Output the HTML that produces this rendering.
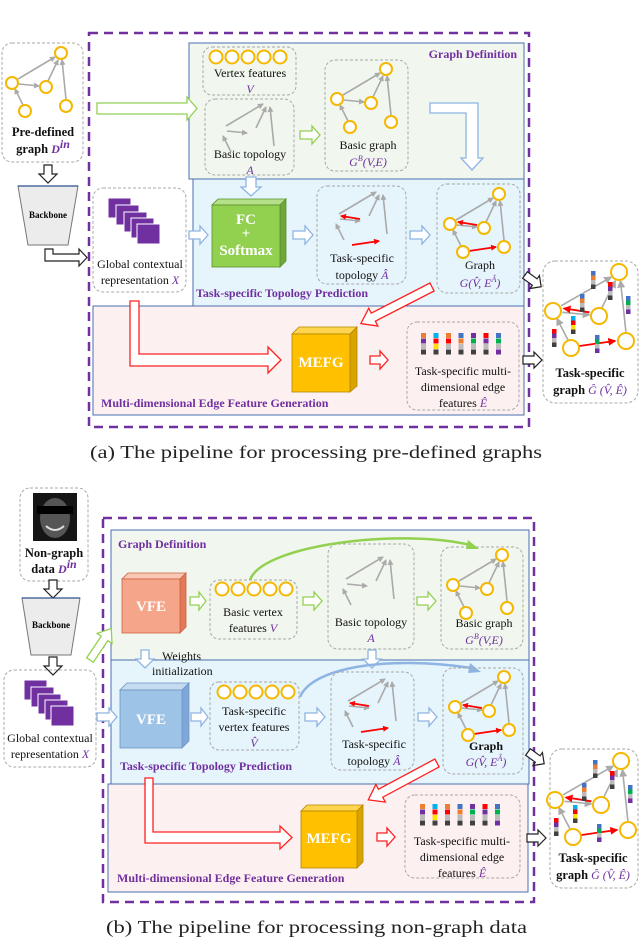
<!DOCTYPE html>
<html><head><meta charset="utf-8"><style>
html,body{margin:0;padding:0;background:#fff}
svg{display:block}
text{font-family:"Liberation Serif",serif}
.t{font-size:12px;fill:#111}
.m{font-size:12px;fill:#7030a0;font-style:italic}
.h{font-size:12px;fill:#7030a0;font-weight:bold}
.b{font-size:12.5px;font-weight:bold;fill:#111}
.cap{font-size:18px;fill:#222}
.db{fill:none;stroke:#a8a8a8;stroke-width:1;stroke-dasharray:3 2}
.ga{fill:#fff;stroke:#92d050;stroke-width:1.3}
.ba{fill:#fff;stroke:#8eb4e3;stroke-width:1.3}
.ra{fill:#fff;stroke:#ff2020;stroke-width:1.3}
.ka{fill:#fff;stroke:#222;stroke-width:1.2}
.ct{font-size:15px;font-weight:bold;fill:#fff;text-anchor:middle}
</style></head><body>
<svg width="640" height="938" viewBox="0 0 640 938" xmlns="http://www.w3.org/2000/svg">
<defs>
<marker id="ag" markerWidth="6" markerHeight="6" refX="5" refY="3" orient="auto" markerUnits="userSpaceOnUse"><path d="M0,0 L6,3 L0,6z" fill="#aaa"/></marker>
<marker id="ar" markerWidth="6" markerHeight="6" refX="5" refY="3" orient="auto" markerUnits="userSpaceOnUse"><path d="M0,0 L6,3 L0,6z" fill="#f00"/></marker>
<g id="ed" stroke="#aaa" stroke-width="1.6" marker-end="url(#ag)">
<line x1="6" y1="26" x2="43" y2="4"/><line x1="36" y1="28" x2="46" y2="7"/><line x1="54" y1="46" x2="50" y2="7"/><line x1="7" y1="31" x2="27" y2="33"/><line x1="11" y1="52" x2="3" y2="36"/>
</g>
<g id="nd" fill="#fff" stroke="#f5b800" stroke-width="2">
<circle cx="49" cy="0" r="6"/><circle cx="0" cy="30" r="6"/><circle cx="34" cy="34" r="6"/><circle cx="13" cy="58" r="6"/><circle cx="54" cy="53" r="6"/>
</g>
<g id="re" stroke="#f00" stroke-width="1.8" marker-end="url(#ar)">
<line x1="27" y1="31" x2="8" y2="28"/><line x1="19" y1="57" x2="46" y2="53"/>
</g>
<g id="gr"><use href="#ed"/><use href="#nd"/></g>
<g id="tg"><use href="#ed"/><use href="#re"/><use href="#nd"/></g>
<g id="vc" fill="#fff" stroke="#f5b800" stroke-width="2"><circle cx="0" cy="0" r="6.5"/><circle cx="16" cy="0" r="6.5"/><circle cx="32" cy="0" r="6.5"/><circle cx="48" cy="0" r="6.5"/><circle cx="64" cy="0" r="6.5"/></g>
<g id="bars">
<rect x="0" y="0" width="5" height="5" fill="#ed7d31"/><rect x="0" y="5.5" width="5" height="5" fill="#7030a0"/><rect x="0" y="11" width="5" height="5" fill="#bbb"/><rect x="0" y="16.5" width="5" height="5" fill="#404040"/>
<rect x="12.5" y="0" width="5" height="5" fill="#00b0f0"/><rect x="12.5" y="5.5" width="5" height="5" fill="#f00"/><rect x="12.5" y="11" width="5" height="5" fill="#ffe000"/><rect x="12.5" y="16.5" width="5" height="5" fill="#404040"/>
<rect x="25" y="0" width="5" height="5" fill="#ed7d31"/><rect x="25" y="5.5" width="5" height="5" fill="#f00"/><rect x="25" y="11" width="5" height="5" fill="#bbb"/><rect x="25" y="16.5" width="5" height="5" fill="#404040"/>
<rect x="37.5" y="0" width="5" height="5" fill="#4472c4"/><rect x="37.5" y="5.5" width="5" height="5" fill="#ed7d31"/><rect x="37.5" y="11" width="5" height="5" fill="#bbb"/><rect x="37.5" y="16.5" width="5" height="5" fill="#404040"/>
<rect x="50" y="0" width="5" height="5" fill="#7030a0"/><rect x="50" y="5.5" width="5" height="5" fill="#00b050"/><rect x="50" y="11" width="5" height="5" fill="#bbb"/><rect x="50" y="16.5" width="5" height="5" fill="#404040"/>
<rect x="62.5" y="0" width="5" height="5" fill="#f00"/><rect x="62.5" y="5.5" width="5" height="5" fill="#7030a0"/><rect x="62.5" y="11" width="5" height="5" fill="#bbb"/><rect x="62.5" y="16.5" width="5" height="5" fill="#404040"/>
<rect x="75" y="0" width="5" height="5" fill="#4472c4"/><rect x="75" y="5.5" width="5" height="5" fill="#00b050"/><rect x="75" y="11" width="5" height="5" fill="#bbb"/><rect x="75" y="16.5" width="5" height="5" fill="#7030a0"/>
</g>
<g id="col1"><rect width="4.5" height="4.5" fill="#4472c4"/><rect y="4.5" width="4.5" height="4.5" fill="#ed7d31"/><rect y="9" width="4.5" height="4.5" fill="#bbb"/><rect y="13.5" width="4.5" height="4.5" fill="#404040"/></g>
<g id="col2"><rect width="4.5" height="4.5" fill="#f00"/><rect y="4.5" width="4.5" height="4.5" fill="#7030a0"/><rect y="9" width="4.5" height="4.5" fill="#bbb"/><rect y="13.5" width="4.5" height="4.5" fill="#404040"/></g>
<g id="col3"><rect width="4.5" height="4.5" fill="#4472c4"/><rect y="4.5" width="4.5" height="4.5" fill="#00b050"/><rect y="9" width="4.5" height="4.5" fill="#bbb"/><rect y="13.5" width="4.5" height="4.5" fill="#7030a0"/></g>
<g id="col4"><rect width="4.5" height="4.5" fill="#00b0f0"/><rect y="4.5" width="4.5" height="4.5" fill="#f00"/><rect y="9" width="4.5" height="4.5" fill="#ffe000"/><rect y="13.5" width="4.5" height="4.5" fill="#404040"/></g>
<g id="fin">
<g transform="scale(1.35,1.3)"><g stroke="#aaa" stroke-width="1.2" marker-end="url(#ag)"><line x1="6" y1="26" x2="43" y2="4"/><line x1="36" y1="28" x2="46" y2="7"/><line x1="54" y1="46" x2="50" y2="7"/><line x1="7" y1="31" x2="27" y2="33"/><line x1="11" y1="52" x2="3" y2="36"/></g>
<g stroke="#f00" stroke-width="1.4" marker-end="url(#ar)"><line x1="27" y1="31" x2="8" y2="28"/><line x1="19" y1="57" x2="46" y2="53"/></g></g>
<use href="#col1" x="38" y="-1"/><use href="#col2" x="55" y="10"/><use href="#col3" x="73" y="24"/><use href="#col1" x="27" y="22"/><use href="#col4" x="18" y="44"/><use href="#col2" x="-1" y="57"/><use href="#col3" x="42" y="63"/>
<g fill="#fff" stroke="#f5b800" stroke-width="2" fill-opacity="0"><circle cx="66" cy="0" r="8"/><circle cx="0" cy="39" r="8"/><circle cx="46" cy="44" r="8"/><circle cx="18" cy="76" r="8"/><circle cx="73" cy="69" r="8"/></g>
</g>
</defs>

<!-- ================= (a) ================= -->
<rect x="189" y="43" width="335" height="136" fill="#f1f7ee" stroke="#4a6fb0" stroke-width="1"/>
<rect x="193" y="179" width="331" height="127" fill="#e6f4fb" stroke="#4a6fb0" stroke-width="1"/>
<rect x="93" y="306" width="431" height="109" fill="#fdf0f0" stroke="#4a6fb0" stroke-width="1"/>
<rect x="89" y="33" width="440" height="394" fill="none" stroke="#7030a0" stroke-width="2.5" stroke-dasharray="9 6"/>

<!-- pre-defined -->
<rect x="2" y="43" width="81" height="119" rx="10" class="db"/>
<g transform="translate(12,53) scale(1.0,1.0)"><use href="#gr" transform="translate(0,0)"/></g>
<text x="43" y="136" class="b" text-anchor="middle">Pre-defined</text>
<text x="43" y="153" class="b" text-anchor="middle">graph <tspan class="m" style="font-weight:bold">D</tspan><tspan class="m" font-size="8" dy="-5">in</tspan></text>
<polygon class="ka" points="44,165 52,165 52,174 57,174 48,183 39,174 44,174"/>
<polygon points="18,186 78,186 68,245 28,245" fill="#ececec" stroke="#777"/><line x1="18" y1="186" x2="78" y2="186" stroke="#2f4f8f" stroke-width="1.2"/>
<text x="48" y="218" font-size="9" font-weight="bold" text-anchor="middle">Backbone</text>
<polygon class="ka" points="45,249 53,249 53,254 79,254 79,249 87,257.5 79,266 79,261 45,261"/>

<!-- global X -->
<rect x="93" y="188" width="93" height="104" rx="10" class="db" fill="#fff"/>
<g fill="#7030a0" stroke="#fff" stroke-width="1"><rect x="108" y="198" width="23" height="20"/><rect x="116" y="205" width="23" height="20"/><rect x="124" y="212" width="23" height="20"/><rect x="131" y="218" width="23" height="20"/><rect x="137" y="224" width="23" height="20"/></g>
<text x="140" y="268" class="t" text-anchor="middle" font-size="11.5">Global contextual</text>
<text x="140" y="284" class="t" text-anchor="middle" font-size="11.5">representation <tspan class="m">X</tspan></text>

<polygon class="ga" points="97,103 187,103 187,97 197,108.5 187,120 187,114 97,114"/>

<!-- graph definition row -->
<text x="517" y="58" class="h" text-anchor="end">Graph Definition</text>
<rect x="203" y="47" width="93" height="48" rx="9" class="db"/>
<use href="#vc" x="216" y="57"/>
<text x="250" y="77" class="t" text-anchor="middle">Vertex features</text>
<text x="250" y="93" class="m" text-anchor="middle">V</text>
<rect x="205" y="99" width="89" height="76" rx="10" class="db"/>
<use href="#ed" x="220" y="100"/>
<text x="250" y="158" class="t" text-anchor="middle">Basic topology</text>
<text x="250" y="174" class="m" text-anchor="middle">A</text>
<polygon class="ga" points="300,131 312,131 312,126 320,135 312,144 312,139 300,139"/>
<rect x="325" y="60" width="83" height="111" rx="10" class="db"/>
<use href="#gr" x="337" y="69"/>
<text x="368" y="149" class="t" text-anchor="middle">Basic graph</text>
<text x="368" y="166" class="m" text-anchor="middle">G<tspan font-size="8" dy="-5">B</tspan><tspan dy="5">(V,E)</tspan></text>
<polygon class="ba" points="430,103 478,103 478,158 483,158 472,170 461,158 466,158 466,113 430,113"/>
<polygon class="ba" points="246,177 256,177 256,187 261,187 251,196 241,187 246,187"/>

<!-- task-specific topology row -->
<polygon class="ba" points="189,231 200,231 200,226 208,235 200,244 200,239 189,239"/>
<polygon points="212,205 280,205 286,199 218,199" fill="#b5e08a" stroke="#5a8f2a" stroke-width=".8"/>
<polygon points="280,205 286,199 286,261 280,267" fill="#6fa83a" stroke="#5a8f2a" stroke-width=".8"/>
<rect x="212" y="205" width="68" height="62" fill="#92d050" stroke="#5a8f2a" stroke-width=".8"/>
<text x="246" y="224" class="ct">FC</text><text x="246" y="238" class="ct" font-size="10">+</text><text x="246" y="255" class="ct">Softmax</text>
<polygon class="ba" points="293,231 305,231 305,226 313,235 305,244 305,239 293,239"/>
<rect x="317" y="186" width="89" height="98" rx="10" class="db"/>
<g transform="translate(333,188)"><use href="#ed"/><use href="#re"/></g>
<text x="362" y="262" class="t" text-anchor="middle">Task-specific</text>
<text x="362" y="279" class="t" text-anchor="middle">topology <tspan class="m">Â</tspan></text>
<polygon class="ba" points="410,231 422,231 422,226 430,235 422,244 422,239 410,239"/>
<rect x="437" y="184" width="83" height="109" rx="10" class="db"/>
<use href="#tg" x="450" y="194"/>
<text x="480" y="269" class="t" text-anchor="middle">Graph</text>
<text x="480" y="287" class="m" text-anchor="middle">G(V̂, E<tspan font-size="8" dy="-5">Â</tspan><tspan dy="5">)</tspan></text>
<text x="196" y="297" class="h">Task-specific Topology Prediction</text>

<!-- MEFG row -->
<polygon class="ra" points="130,301 139,301 139,354 268,354 268,347 281,360 268,373 268,366 130,366"/>
<polygon class="ra" transform="translate(432,287) rotate(152.8)" points="0,-4.5 66,-4.5 66,-10 80,0 66,10 66,4.5 0,4.5"/>
<polygon points="292,334 350,334 357,327 299,327" fill="#ffd54f" stroke="#b38600" stroke-width=".8"/>
<polygon points="350,334 357,327 357,386 350,392" fill="#d9a300" stroke="#b38600" stroke-width=".8"/>
<rect x="292" y="334" width="58" height="58" fill="#ffc000" stroke="#b38600" stroke-width=".8"/>
<text x="321" y="367" class="ct">MEFG</text>
<polygon class="ra" points="370,356 380,356 380,351 388,360 380,369 380,364 370,364"/>
<rect x="407" y="322" width="112" height="88" rx="10" class="db"/>
<use href="#bars" x="421" y="333"/>
<text x="463" y="375" class="t" text-anchor="middle" font-size="11.5">Task-specific multi-</text>
<text x="463" y="391" class="t" text-anchor="middle" font-size="11.5">dimensional edge</text>
<text x="463" y="407" class="t" text-anchor="middle" font-size="11.5">features <tspan class="m">Ê</tspan></text>
<text x="101" y="407" class="h">Multi-dimensional Edge Feature Generation</text>

<!-- output a -->
<polygon class="ka" transform="translate(525,275) rotate(36)" points="0,-4 12,-4 12,-8 20,0 12,8 12,4 0,4"/>
<polygon class="ka" points="523,356 534,356 534,352 542,360 534,368 534,364 523,364"/>
<rect x="543" y="261" width="95" height="142" rx="12" class="db"/>
<use href="#fin" x="553" y="272"/>
<text x="590" y="377" class="b" text-anchor="middle">Task-specific</text>
<text x="590" y="394" class="b" text-anchor="middle">graph <tspan class="m" style="font-weight:normal">Ĝ (V̂, Ê)</tspan></text>

<text x="90" y="458" class="cap" textLength="452" lengthAdjust="spacingAndGlyphs">(a) The pipeline for processing pre-defined graphs</text>

<!-- ================= (b) ================= -->
<rect x="111" y="530" width="418" height="130" fill="#f1f7ee" stroke="#4a6fb0" stroke-width="1"/>
<rect x="111" y="660" width="418" height="124" fill="#e6f4fb" stroke="#4a6fb0" stroke-width="1"/>
<rect x="108" y="784" width="420" height="108" fill="#fdf0f0" stroke="#4a6fb0" stroke-width="1"/>
<rect x="103" y="518" width="431" height="384" fill="none" stroke="#7030a0" stroke-width="2.5" stroke-dasharray="9 6"/>

<!-- non-graph -->
<rect x="20" y="488" width="68" height="93" rx="10" class="db"/>
<rect x="33" y="493" width="44" height="48" fill="#151515"/>
<ellipse cx="55" cy="518" rx="15" ry="20" fill="#555"/>
<rect x="37" y="506" width="36" height="8" fill="#000"/>
<path d="M46,526 Q55,534 64,526" stroke="#ddd" stroke-width="2" fill="none"/>
<text x="54" y="557" class="b" text-anchor="middle">Non-graph</text>
<text x="54" y="573" class="b" text-anchor="middle">data <tspan class="m" style="font-weight:bold">D</tspan><tspan class="m" font-size="8" dy="-5">in</tspan></text>
<polygon class="ka" points="49,580 57,580 57,589 62,589 53,598 44,589 49,589"/>
<polygon points="22,598 80,598 71,655 31,655" fill="#ececec" stroke="#777"/><line x1="22" y1="598" x2="80" y2="598" stroke="#2f4f8f" stroke-width="1.2"/>
<text x="51" y="628" font-size="9" font-weight="bold" text-anchor="middle">Backbone</text>
<polygon class="ka" points="49,657 57,657 57,666 62,666 53,675 44,666 49,666"/>
<rect x="4" y="670" width="92" height="97" rx="10" class="db" fill="#fff"/>
<g fill="#7030a0" stroke="#fff" stroke-width="1"><rect x="24" y="680" width="23" height="20"/><rect x="31" y="687" width="23" height="20"/><rect x="38" y="694" width="23" height="20"/><rect x="45" y="700" width="23" height="20"/><rect x="51" y="706" width="23" height="20"/></g>
<text x="50" y="742" class="t" text-anchor="middle" font-size="11.5">Global contextual</text>
<text x="50" y="758" class="t" text-anchor="middle" font-size="11.5">representation <tspan class="m">X</tspan></text>

<polygon class="ga" transform="translate(90,660) rotate(-56)" points="0,-4 26,-4 26,-9 38,0 26,9 26,4 0,4"/>

<!-- graph definition b -->
<text x="118" y="548" class="h">Graph Definition</text>
<polygon points="122,579 180,579 186,573 128,573" fill="#f8c8b4" stroke="#d06040" stroke-width=".8"/>
<polygon points="180,579 186,573 186,627 180,633" fill="#e07a58" stroke="#d06040" stroke-width=".8"/>
<rect x="122" y="579" width="58" height="54" fill="#f4a58a" stroke="#d06040" stroke-width=".8"/>
<text x="151" y="611" class="ct">VFE</text>
<polygon class="ga" points="190,597 199,597 199,592 206,601 199,610 199,605 190,605"/>
<rect x="210" y="580" width="87" height="59" rx="9" class="db"/>
<use href="#vc" x="222" y="589"/>
<text x="253" y="616" class="t" text-anchor="middle">Basic vertex</text>
<text x="253" y="632" class="t" text-anchor="middle">features <tspan class="m">V</tspan></text>
<polygon class="ga" points="303,597 314,597 314,592 322,601 314,610 314,605 303,605"/>
<rect x="328" y="544" width="86" height="105" rx="10" class="db"/>
<use href="#ed" x="340" y="553"/>
<text x="371" y="626" class="t" text-anchor="middle">Basic topology</text>
<text x="371" y="642" class="m" text-anchor="middle">A</text>
<polygon class="ga" points="417,597 428,597 428,592 436,601 428,610 428,605 417,605"/>
<rect x="441" y="547" width="82" height="102" rx="10" class="db"/>
<use href="#gr" x="453" y="555"/>
<text x="484" y="627" class="t" text-anchor="middle">Basic graph</text>
<text x="484" y="644" class="m" text-anchor="middle">G<tspan font-size="8" dy="-5">B</tspan><tspan dy="5">(V,E)</tspan></text>
<path d="M250,580 C262,545 400,528 470,545" fill="none" stroke="#92d050" stroke-width="2.5"/>
<polygon points="468,540 479,549 466,549" fill="#92d050"/>

<polygon class="ba" points="141,650 149,650 149,659 154,659 145,668 136,659 141,659"/>
<text x="162" y="660" class="t" font-size="11">Weights</text>
<text x="152" y="675" class="t" font-size="11">initialization</text>
<polygon class="ba" points="368,650 376,650 376,659 381,659 372,668 363,659 368,659"/>
<path d="M300,697 C312,668 385,655 472,668" fill="none" stroke="#8eb4e3" stroke-width="2.5"/>
<polygon points="470,663 481,672 468,673" fill="#8eb4e3"/>

<!-- task-specific b -->
<polygon class="ba" points="97,713 109,713 109,708 117,717 109,726 109,721 97,721"/>
<polygon points="120,690 182,690 189,683 127,683" fill="#c5dbf0" stroke="#6f95c8" stroke-width=".8"/>
<polygon points="182,690 189,683 189,741 182,748" fill="#7fa6d6" stroke="#6f95c8" stroke-width=".8"/>
<rect x="120" y="690" width="62" height="58" fill="#9dc3e6" stroke="#6f95c8" stroke-width=".8"/>
<text x="151" y="724" class="ct">VFE</text>
<polygon class="ba" points="191,713 201,713 201,708 208,717 201,726 201,721 191,721"/>
<rect x="210" y="682" width="89" height="68" rx="9" class="db"/>
<use href="#vc" x="224" y="692"/>
<text x="254" y="715" class="t" text-anchor="middle">Task-specific</text>
<text x="254" y="731" class="t" text-anchor="middle">vertex features</text>
<text x="254" y="747" class="m" text-anchor="middle">V̂</text>
<polygon class="ba" points="305,713 317,713 317,708 325,717 317,726 317,721 305,721"/>
<rect x="331" y="672" width="83" height="98" rx="10" class="db"/>
<g transform="translate(342,675)"><use href="#ed"/><use href="#re"/></g>
<text x="374" y="748" class="t" text-anchor="middle">Task-specific</text>
<text x="374" y="765" class="t" text-anchor="middle">topology <tspan class="m">Â</tspan></text>
<polygon class="ba" points="418,713 429,713 429,708 437,717 429,726 429,721 418,721"/>
<rect x="443" y="668" width="80" height="106" rx="10" class="db"/>
<use href="#tg" x="455" y="677"/>
<text x="486" y="750" class="t" text-anchor="middle" font-weight="bold">Graph</text>
<text x="486" y="766" class="m" text-anchor="middle">G(V̂, E<tspan font-size="8" dy="-5">Â</tspan><tspan dy="5">)</tspan></text>
<text x="120" y="770" class="h">Task-specific Topology Prediction</text>

<!-- MEFG b -->
<polygon class="ra" points="145,778 153,778 153,832 280,832 280,826 292,837.5 280,849 280,843 145,843"/>
<polygon class="ra" transform="translate(437,763) rotate(151.8)" points="0,-4.5 64,-4.5 64,-10 78,0 64,10 64,4.5 0,4.5"/>
<polygon points="301,811 357,811 363,805 307,805" fill="#ffd54f" stroke="#b38600" stroke-width=".8"/>
<polygon points="357,811 363,805 363,862 357,868" fill="#d9a300" stroke="#b38600" stroke-width=".8"/>
<rect x="301" y="811" width="56" height="57" fill="#ffc000" stroke="#b38600" stroke-width=".8"/>
<text x="329" y="843" class="ct">MEFG</text>
<polygon class="ra" points="377,833 387,833 387,828 395,837 387,846 387,841 377,841"/>
<rect x="405" y="795" width="115" height="83" rx="10" class="db"/>
<use href="#bars" x="420" y="804"/>
<text x="462" y="845" class="t" text-anchor="middle" font-size="11.5">Task-specific multi-</text>
<text x="462" y="861" class="t" text-anchor="middle" font-size="11.5">dimensional edge</text>
<text x="462" y="877" class="t" text-anchor="middle" font-size="11.5">features <tspan class="m">Ê</tspan></text>
<text x="117" y="882" class="h">Multi-dimensional Edge Feature Generation</text>

<!-- output b -->
<polygon class="ka" transform="translate(528,752) rotate(36)" points="0,-4 12,-4 12,-8 20,0 12,8 12,4 0,4"/>
<polygon class="ka" points="527,834 538,834 538,830 546,838 538,846 538,842 527,842"/>
<rect x="550" y="749" width="88" height="139" rx="12" class="db"/>
<use href="#fin" x="555" y="761"/>
<text x="593" y="862" class="b" text-anchor="middle">Task-specific</text>
<text x="593" y="879" class="b" text-anchor="middle">graph <tspan class="m" style="font-weight:normal">Ĝ (V̂, Ê)</tspan></text>

<text x="106" y="933" class="cap" textLength="421" lengthAdjust="spacingAndGlyphs">(b) The pipeline for processing non-graph data</text>
</svg>
</body></html>
